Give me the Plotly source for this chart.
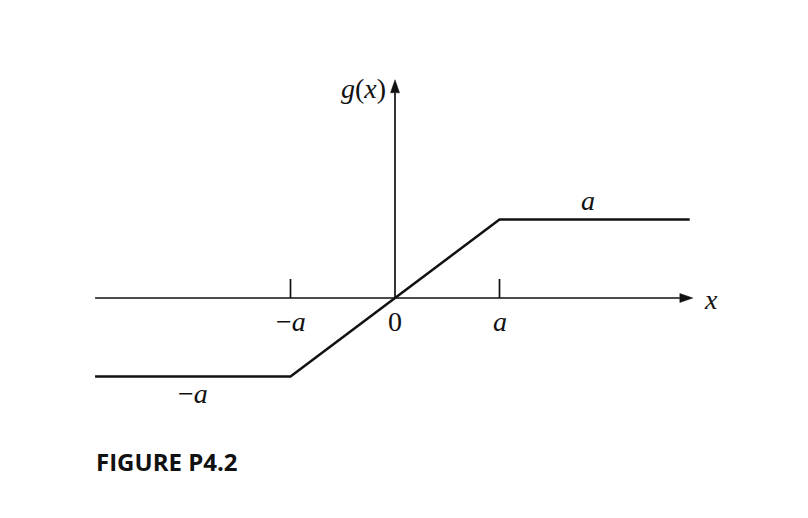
import plotly.graph_objects as go

# ---- data (a = 1) ----
x_pts = [-2.87, -1.0, 1.0, 2.82]
g_pts = [-1.0, -1.0, 1.0, 1.0]
tick_vals = [-1.0, 0.0, 1.0]
tick_labels = ["−<i>a</i>", "0", "<i>a</i>"]
x_axis_extent = [-2.87, 2.85]
y_axis_extent = [0.0, 2.78]

OFF = 8  # page body margin
W, H = 792, 502
px_x = 104.5   # pixels per unit (x)
px_y = 78.5    # pixels per unit (y)
ox, oy = 395 - OFF, 298 - OFF
xr = [-ox / px_x, (W - ox) / px_x]
yr = [-(H - oy) / px_y, oy / px_y]

def dx(px):
    return (px - OFF - ox) / px_x

def dy(py):
    return (oy - (py - OFF)) / px_y

fig = go.Figure()
fig.add_trace(go.Scatter(x=x_pts, y=g_pts, mode="lines",
                         line=dict(color="#111111", width=2.5),
                         hoverinfo="skip", showlegend=False))

shapes = []
lc = "#111111"
ah_len, ah_half = 13, 4.5
shapes.append(dict(type="line", x0=x_axis_extent[0], y0=0,
                   x1=x_axis_extent[1] - ah_len / px_x, y1=0,
                   line=dict(color=lc, width=1.7)))
tx = x_axis_extent[1]
shapes.append(dict(type="path",
                   path=f"M {tx},0 L {tx - ah_len/px_x},{ah_half/px_y} L {tx - ah_len/px_x},{-ah_half/px_y} Z",
                   fillcolor=lc, line=dict(color=lc, width=0.5)))
ty = y_axis_extent[1]
shapes.append(dict(type="line", x0=0, y0=y_axis_extent[0], x1=0,
                   y1=ty - ah_len / px_y, line=dict(color=lc, width=1.7)))
shapes.append(dict(type="path",
                   path=f"M 0,{ty} L {ah_half/px_x},{ty - ah_len/px_y} L {-ah_half/px_x},{ty - ah_len/px_y} Z",
                   fillcolor=lc, line=dict(color=lc, width=0.5)))
for v in tick_vals:
    if v != 0:
        shapes.append(dict(type="line", x0=v, y0=0, x1=v, y1=19 / px_y,
                           line=dict(color=lc, width=1.7)))

serif = "Liberation Serif, Times New Roman, serif"
sf = dict(family=serif, size=28, color=lc)
ann = []
for v, t in zip(tick_vals, tick_labels):
    ann.append(dict(x=v, y=dy(321), text=t, showarrow=False, font=sf,
                    xanchor="center", yanchor="middle"))
ann.append(dict(x=dx(711), y=dy(299), text="<i>x</i>", showarrow=False, font=sf,
                xanchor="center", yanchor="middle"))
ann.append(dict(x=dx(363), y=dy(88), text="<i>g</i>(<i>x</i>)", showarrow=False, font=sf,
                xanchor="center", yanchor="middle"))
ann.append(dict(x=dx(588), y=dy(200), text="<i>a</i>", showarrow=False, font=sf,
                xanchor="center", yanchor="middle"))
ann.append(dict(x=dx(193), y=dy(393), text="−<i>a</i>", showarrow=False, font=sf,
                xanchor="center", yanchor="middle"))
ann.append(dict(x=(94 - OFF) / W, y=1 - (461 - OFF) / H, xref="paper", yref="paper",
                text="<b>FIGURE P4.2</b>", showarrow=False,
                font=dict(family="Open Sans, sans-serif", size=24, color=lc),
                xanchor="left", yanchor="middle"))

fig.update_layout(width=W, height=H, margin=dict(l=0, r=0, t=0, b=0),
                  paper_bgcolor="white", plot_bgcolor="white",
                  xaxis=dict(range=xr, visible=False, fixedrange=True),
                  yaxis=dict(range=yr, visible=False, fixedrange=True),
                  shapes=shapes, annotations=ann, showlegend=False)
fig.write_html("out.html")
